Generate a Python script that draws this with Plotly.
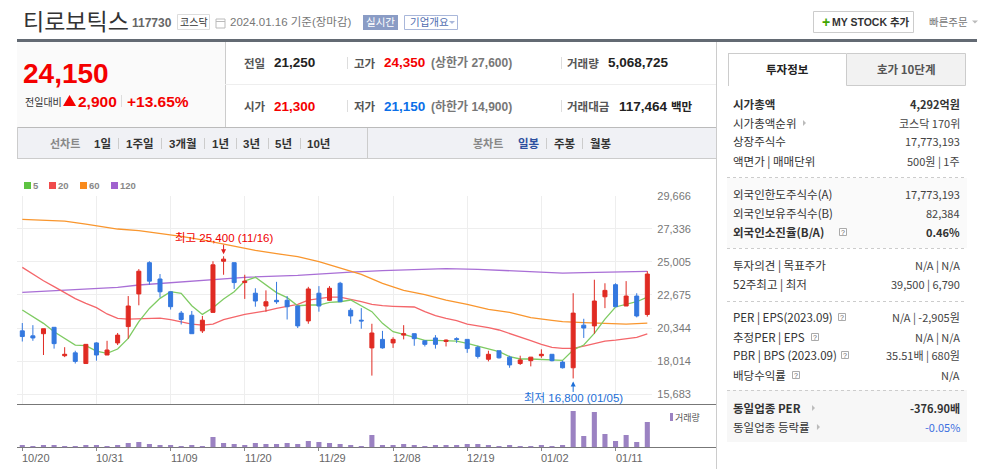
import plotly.graph_objects as go

#trading days shown on the chart
dates = ['10/20','10/23','10/24','10/25','10/26','10/27','10/30','10/31','11/01','11/02','11/03','11/06','11/07','11/08','11/09',
         '11/10','11/13','11/14','11/15','11/16','11/17','11/20','11/21','11/22','11/23','11/24','11/27','11/28','11/29','11/30',
         '12/01','12/04','12/05','12/06','12/07','12/08','12/11','12/12','12/13','12/14','12/15','12/18','12/19','12/20','12/21',
         '12/22','12/26','12/27','12/28','01/02','01/03','01/04','01/05','01/08','01/09','01/10','01/11','01/12','01/15','01/16']
open_p = [20150,19800,19950,20400,18400,18600,17850,19300,18450,19300,20450,22750,24950,23800,22900,21400,21250,20150,21450,25050,
          24950,23550,22800,21900,22300,22300,21900,20850,22800,22300,23500,21600,20900,18950,19550,19300,19850,19950,19450,19650,
          19400,19600,19550,19000,18150,18750,18300,17850,18050,18400,18500,17950,17550,20550,20500,22550,23400,21900,22600,21300]
high_p = [20700,20550,20300,20400,19000,18750,19200,19350,19450,20000,22600,24500,25050,24150,22900,21550,21550,21200,25050,25400,
          24950,24100,23150,23000,23600,22600,21900,23250,23300,23300,23600,21750,21750,20650,20150,19700,20550,19950,19450,19850,
          19550,19700,19550,19100,18750,18750,18400,18400,18300,18850,18500,18050,22800,21000,23750,23500,23500,23650,22800,24350]
low_p = [19400,19450,18450,18900,18300,17850,17850,18050,18450,19150,19600,21950,23400,22500,21650,20600,19950,20000,21450,24100,
         23100,22400,21850,21500,22050,20950,20350,20650,21500,22250,22200,20650,20300,17000,18900,18950,19550,19100,19050,18900,
         19050,19300,18600,18200,18000,18200,17550,17750,17650,18250,18000,17500,16800,19650,19950,21750,21850,21900,21100,21150]
close_p = [19750,19650,20300,19250,18500,18000,19200,18450,18800,19850,21900,24350,23650,22900,21850,20950,19950,20900,24800,25200,
           23550,23650,22250,22200,22200,21850,20500,23100,21900,23150,22200,21200,20850,20000,18950,19550,19950,19600,19200,19200,
           19500,19550,18900,18350,18500,18250,17750,18100,18300,18500,18050,17550,21400,20350,22250,23000,21850,22600,21200,24150]
volume = [470000,270000,470000,470000,270000,270000,470000,470000,270000,470000,870000,1070000,670000,470000,470000,270000,470000,
          270000,2070000,870000,670000,470000,870000,670000,670000,870000,670000,1270000,1070000,870000,670000,470000,270000,2470000,
          470000,470000,670000,470000,270000,470000,470000,470000,670000,670000,470000,270000,470000,270000,270000,470000,270000,
          470000,7270000,2270000,7070000,2670000,1270000,2470000,1070000,5068725]

#moving averages
ma5 = [21620,21150,20680,20090,19620,19150,19110,18730,18570,18870,19620,20800,21730,22440,22910,22790,21920,21310,21780,22390,
       22910,23660,23920,23380,22840,22490,21920,21970,21970,22160,22200,22320,21920,21500,20680,20090,19900,19670,19480,19480,
       19460,19430,19270,19080,18870,18680,18330,18170,18170,18140,18140,18070,18800,19150,19970,20980,21830,22020,22200,22530]
ma20 = [24620,24130,23680,23260,22860,22420,22090,21780,21340,21030,20980,21010,21030,21050,20940,20800,20630,20560,20630,20940,
        21150,21310,21430,21550,21730,21900,22020,22320,22440,22530,22530,22390,22200,22020,21920,21880,21850,21830,21500,21220,
        21030,20870,20630,20510,20370,20210,19970,19740,19460,19200,18990,18920,18920,19080,19270,19430,19500,19620,19690,19930]
ma60_idx = [0,2,4,6,7,8,9,11,13,15,17,19,21,22,24,26,28,30,32,34,36,38,40,42,43,44,46,48,50,51,53,55,57,59]
ma60 = [28000,27950,27880,27670,27560,27410,27320,27200,27020,26800,26550,26260,25960,25820,25580,25370,25020,24600,24130,23490,
        23000,22700,22320,22020,21830,21660,21450,21080,20890,20800,20730,20680,20630,20700]
ma120_idx = [0,4,7,9,11,13,16,19,21,26,29,31,34,37,40,43,47,50,51,53,56,59]
ma120 = [22860,23030,23120,23210,23380,23490,23640,23800,23920,24060,24220,24290,24390,24480,24530,24480,24360,24270,24220,24250,24290,24340]

price_ticks = [29666,27336,25005,22675,20344,18014,15683]
price_labels = ['29,666','27,336','25,005','22,675','20,344','18,014','15,683']
date_ticks = ['10/20','10/31','11/09','11/20','11/29','12/08','12/19','01/02','01/11']

KR = '"Noto Sans CJK KR"'
LAT = 'Liberation Sans, "Noto Sans CJK KR"'
W, H = 985.0, 469.0
annotations = []
shapes = []

def txt(x, y, s, size=12, color='#444', anchor='left', bold=False, fam=KR):
    nudge = {'left': -1, 'right': 1, 'center': 0}[anchor]
    annotations.append(dict(x=(x+nudge)/W, y=1-y/H, xref='paper', yref='paper', text=('<b>'+s+'</b>') if bold else s, showarrow=False,
                            xanchor=anchor, yanchor='middle', borderpad=0, font=dict(size=size, color=color, family=fam)))

def box(x0, y0, x1, y1, fill=None, line=None, lw=1, dash=None):
    shapes.append(dict(type='rect', xref='paper', yref='paper', x0=x0/W, x1=x1/W, y0=1-y0/H, y1=1-y1/H, layer='below',
                       fillcolor=fill, line=dict(color=line, width=lw if line else 0, dash=dash)))

def seg(x0, y0, x1, y1, color='#ddd', lw=1, dash=None):
    shapes.append(dict(type='line', xref='paper', yref='paper', x0=x0/W, x1=x1/W, y0=1-y0/H, y1=1-y1/H, layer='below',
                       line=dict(color=color, width=lw, dash=dash)))

def tri(points, color):
    path = 'M ' + ' L '.join('%.4f %.4f' % (px/W, 1-py/H) for px, py in points) + ' Z'
    shapes.append(dict(type='path', xref='paper', yref='paper', path=path, fillcolor=color, line=dict(width=0)))

#header
txt(23, 20, '티로보틱스', 23, '#333')
txt(132, 23, '117730', 12, '#666', bold=True, fam=LAT)
box(177.5, 14.5, 209.5, 29.5, '#fff', '#ddd')
txt(193.5, 22, '코스닥', 10, '#333', 'center')
box(216, 19, 225, 28, '#fff', '#bbb')
seg(216, 21.5, 225, 21.5, '#bbb')
txt(230, 22, '2024.01.16 기준(장마감)', 11.5, '#777', fam=LAT)
box(363, 15, 398, 30, '#8a9cc5')
txt(380.5, 22, '실시간', 10.5, '#fff', 'center')
box(404.5, 15.5, 457.5, 29.5, '#fff', '#a9b7da')
txt(410, 22, '기업개요', 10.5, '#4f6db0')
tri([(449, 21), (455, 21), (452, 24)], '#a9b7da')
box(813.5, 11.5, 913.5, 32.5, '#fff', '#ccc')
txt(822, 22, '+', 14, '#3fa500', bold=True, fam=LAT)
txt(832, 22, 'MY STOCK 추가', 10.5, '#333', bold=True, fam=LAT)
txt(929, 22, '빠른주문', 10.5, '#777')
tri([(972, 20.5), (978, 20.5), (975, 23.5)], '#bbb')
seg(17, 40.5, 977, 40.5, '#636a73', 3)

#price summary
box(17, 42, 225, 127, '#fafafa')
seg(225.5, 42, 225.5, 127, '#ccc')
seg(225, 84.5, 716, 84.5, '#eee')
seg(17, 127.5, 716, 127.5, '#bbb')
box(17, 128, 716, 158, '#f0f1f5')
seg(17, 158.5, 716, 158.5, '#ccc')
seg(17.5, 127, 17.5, 158, '#ccc')
seg(367.5, 128, 367.5, 158, '#ccc')
seg(716.5, 42, 716.5, 469, '#ccc')
txt(23, 74, '24,150', 28, '#f40000', bold=True, fam=LAT)
txt(25, 101, '전일대비', 10, '#333')
tri([(63, 106), (76, 106), (69.5, 95)], '#f40000')
txt(78, 101, '2,900', 15.5, '#f40000', bold=True, fam=LAT)
seg(121.5, 95, 121.5, 107, '#ddd')
txt(127, 101, '+13.65%', 15.5, '#f40000', bold=True, fam=LAT)

for y, lab1, val1, c1, lab2, val2, c2, lim, lab3 in [(63, '전일', '21,250', '#222', '고가', '24,350', '#f40000', '(상한가 27,600)', '거래량'),
                                                     (106, '시가', '21,300', '#f40000', '저가', '21,150', '#0b6fe8', '(하한가 14,900)', '거래대금')]:
    txt(244, y, lab1, 11.5, '#555', bold=True)
    txt(274, y, val1, 13.5, c1, bold=True, fam=LAT)
    seg(347.5, y-6, 347.5, y+6, '#ddd')
    txt(354, y, lab2, 11.5, '#555', bold=True)
    txt(384, y, val2, 13.5, c2, bold=True, fam=LAT)
    txt(431, y, lim, 12, '#777', bold=True, fam=LAT)
    seg(561.5, y-6, 561.5, y+6, '#ddd')
    txt(567, y, lab3, 11.5, '#555', bold=True)
txt(608, 63, '5,068,725', 13.5, '#222', bold=True, fam=LAT)
txt(619, 106, '117,464', 13.5, '#222', bold=True, fam=LAT)
txt(671, 106, '백만', 11.5, '#222', bold=True)

#period tabs
txt(50, 143, '선차트', 11, '#888', bold=True)
for x, s in [(94, '1일'), (126, '1주일'), (169, '3개월'), (212, '1년'), (243, '3년'), (275, '5년'), (307, '10년')]:
    txt(x, 143, s, 11.5, '#333', bold=True, fam=LAT)
for x in [118.5, 161.5, 204.5, 236.5, 268.5, 300.5, 546.5, 582.5]:
    seg(x, 138, x, 149, '#ccc')
txt(473, 143, '봉차트', 11, '#888', bold=True)
txt(518, 143, '일봉', 11.5, '#2c4f9e', bold=True)
txt(554, 143, '주봉', 11.5, '#333', bold=True)
txt(590, 143, '월봉', 11.5, '#333', bold=True)

#right panel
seg(728.5, 53, 728.5, 86, '#ccc')
seg(728, 53.5, 846, 53.5, '#ccc')
box(846.5, 53.5, 965.5, 85.5, '#f2f2f2', '#ccc')
txt(787, 69, '투자정보', 11.5, '#222', 'center', bold=True)
txt(906, 69, '호가 10단계', 11.5, '#555', 'center', bold=True)
box(727, 178, 967, 248, '#fafafa')
box(727, 390, 967, 442, '#f7f7f7')
for y in [177.5, 248.5, 301.5, 390.5]:
    seg(727, y, 967, y, '#ccc', 1, 'dot')

rows = [(104, '시가총액', '4,292억원', True, '#333'), (123, '시가총액순위', '코스닥 170위', False, '#444'),
        (141, '상장주식수', '17,773,193', False, '#444'), (161, '액면가 | 매매단위', '500원 | 1주', False, '#444'),
        (194, '외국인한도주식수(A)', '17,773,193', False, '#444'), (213, '외국인보유주식수(B)', '82,384', False, '#444'),
        (232, '외국인소진율(B/A)', '0.46%', True, '#333'), (265, '투자의견 | 목표주가', 'N/A | N/A', False, '#444'),
        (284, '52주최고 | 최저', '39,500 | 6,790', False, '#444'), (317, 'PER | EPS(2023.09)', 'N/A | -2,905원', False, '#444'),
        (337, '추정PER | EPS', 'N/A | N/A', False, '#444'), (355, 'PBR | BPS (2023.09)', '35.51배 | 680원', False, '#444'),
        (375, '배당수익률', 'N/A', False, '#444'), (408, '동일업종 PER', '-376.90배', True, '#333'),
        (427, '동일업종 등락률', '-0.05%', False, '#3c6fe0')]
for y, lab, val, strong, col in rows:
    txt(733, y, lab, 11.5, '#333', bold=strong)
    txt(960, y, val, 11, col, 'right', bold=strong)

for x, y in [(843, 232), (842, 317), (815, 337), (845, 355), (796, 375)]:
    box(x-3.5, y-3.5, x+3.5, y+3.5, '#fff', '#aaa')
    txt(x, y, '?', 7, '#666', 'center', fam=LAT)
for x, y in [(803, 123), (812, 408), (817, 427)]:
    tri([(x, y-3), (x+3, y), (x, y+3)], '#bbb')

#chart legend
for x, s, c in [(24, '5', '#5dc341'), (49, '20', '#f04b4b'), (80, '60', '#f98a1b'), (111, '120', '#a062cf')]:
    box(x, 182, x+7, 189, c)
    txt(x+9, 185.5, s, 9.5, '#888', bold=True, fam=LAT)
box(670, 413, 673, 421, '#9b82c2')
txt(675, 417, '거래량', 9, '#555')

seg(17, 404.5, 716, 404.5, '#777', 1)
seg(17, 447.5, 716, 447.5, '#777', 1)

for d in date_ticks:
    annotations.append(dict(x=d, y=1-458/H, xref='x2', yref='paper', text=d, showarrow=False, xanchor='left', xshift=-1,
                            yanchor='middle', borderpad=0, font=dict(size=11, color='#666', family=LAT)))

annotations.append(dict(x='11/16', y=25400, xref='x', yref='y', text='최고 25,400 (11/16)', showarrow=True, axref='pixel', ayref='pixel',
                        ax=0, ay=-18, standoff=2, arrowhead=2, arrowsize=1, arrowwidth=1, arrowcolor='#e02020', borderpad=0,
                        font=dict(size=11.5, color='#f00000', family=LAT)))
annotations.append(dict(x='01/05', y=16800, xref='x', yref='y', text='최저 16,800 (01/05)', showarrow=True, axref='pixel', ayref='pixel',
                        ax=0, ay=20, standoff=3, arrowhead=2, arrowsize=1, arrowwidth=1, arrowcolor='#1c6fd8', borderpad=0,
                        font=dict(size=11.5, color='#1c6fd8', family=LAT)))

fig = go.Figure()
fig.add_trace(go.Scatter(x=[dates[i] for i in ma120_idx], y=ma120, mode='lines', line=dict(color='#a96fd6', width=1.3), xaxis='x', yaxis='y'))
fig.add_trace(go.Scatter(x=[dates[i] for i in ma60_idx], y=ma60, mode='lines', line=dict(color='#f9962e', width=1.3), xaxis='x', yaxis='y'))
fig.add_trace(go.Scatter(x=dates, y=ma20, mode='lines', line=dict(color='#f4666a', width=1.3), xaxis='x', yaxis='y'))
fig.add_trace(go.Scatter(x=dates, y=ma5, mode='lines', line=dict(color='#7fcb63', width=1.3), xaxis='x', yaxis='y'))
fig.add_trace(go.Candlestick(x=dates, open=open_p, high=high_p, low=low_p, close=close_p, xaxis='x', yaxis='y3', whiskerwidth=0,
                             increasing=dict(line=dict(color='#e02b23', width=1), fillcolor='#e02b23'),
                             decreasing=dict(line=dict(color='#3478df', width=1), fillcolor='#3478df')))
fig.add_trace(go.Bar(x=dates, y=volume, marker=dict(color='#9b82c2', line=dict(width=0)), xaxis='x2', yaxis='y2'))

x_range = [-0.5, 59.47]
y_range = [14979, 29680]
fig.update_layout(width=985, height=469, margin=dict(l=0, r=0, t=0, b=0, pad=0), showlegend=False, plot_bgcolor='#fff', paper_bgcolor='#fff',
                  bargap=0.52, boxgap=0.46, shapes=shapes, annotations=annotations,
                  xaxis=dict(domain=[17/W, 652.3/W], anchor='y', type='category', categoryorder='array', categoryarray=dates, range=x_range,
                             tickmode='array', tickvals=date_ticks, showticklabels=False, showgrid=True, gridcolor='#eee', gridwidth=1,
                             zeroline=False, rangeslider=dict(visible=False), ticks='', automargin=False),
                  yaxis=dict(domain=[1-404.3/H, 1-195.5/H], anchor='x', side='right', range=y_range, tickmode='array', tickvals=price_ticks,
                             ticktext=price_labels, showgrid=True, gridcolor='#eee', gridwidth=1, zeroline=False, ticks='', automargin=False,
                             ticklabelstandoff=4, tickfont=dict(size=11, color='#777', family=LAT)),
                  yaxis3=dict(overlaying='y', anchor='x', side='right', range=y_range, visible=False, automargin=False),
                  xaxis2=dict(domain=[17/W, 652.3/W], anchor='y2', type='category', categoryorder='array', categoryarray=dates, range=x_range,
                              tickmode='array', tickvals=date_ticks, showticklabels=False, showgrid=False, zeroline=False, automargin=False,
                              ticks='outside', ticklen=3, tickcolor='#888', tickwidth=1),
                  yaxis2=dict(domain=[1-447.3/H, 1-405/H], anchor='x2', range=[0, 8470000], visible=False, automargin=False))

fig.write_html("out.html", config=dict(displayModeBar=False), post_script="document.body.style.margin='0';")
